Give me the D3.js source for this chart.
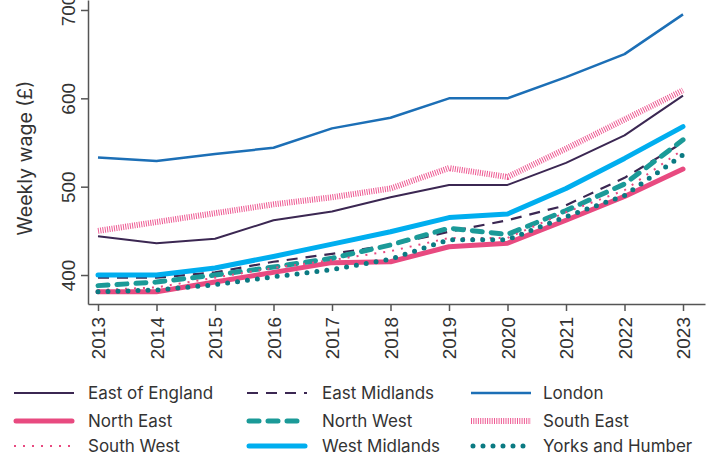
<!DOCTYPE html>
<html>
<head>
<meta charset="utf-8">
<script src="https://cdn.jsdelivr.net/npm/d3@7"></script>
<style>
  body { margin: 0; background: #fff; }
  svg { display: block; font-family: Inter, "Noto Sans", sans-serif; }
  .tick text { font-family: "Liberation Sans", Arial, sans-serif; }
</style>
</head>
<body>
<svg id="chart" width="710" height="455"></svg>
<script>
// years on the x axis
const years = [2013, 2014, 2015, 2016, 2017, 2018, 2019, 2020, 2021, 2022, 2023];
const yTicks = [400, 500, 600, 700];

// weekly wage per region (£)
const eastOfEngland = [444, 436, 441, 462, 472, 488, 502, 502, 527, 558, 603];
const eastMidlands  = [397, 397, 403, 415, 424, 434, 449, 462, 479, 510, 550];
const london        = [533, 529, 537, 544, 566, 578, 600, 600, 624, 650, 695];
const northEast     = [381, 381, 392, 403, 414, 415, 432, 436, 462, 489, 520];
const northWest     = [388, 392, 400, 409, 419, 434, 453, 446, 473, 503, 553];
const southEast     = [450, 460, 470, 480, 488, 498, 521, 511, 543, 576, 609];
const southWest     = [383, 386, 397, 408, 417, 427, 442, 442, 471, 496, 542];
const westMidlands  = [400, 400, 408, 421, 435, 449, 465, 469, 498, 532, 568];
const yorksHumber   = [381, 383, 389, 398, 406, 418, 440, 440, 466, 490, 536];

const series = [
  { name: "East of England", values: eastOfEngland, color: "#3b2752", width: 2, dash: null },
  { name: "East Midlands", values: eastMidlands, color: "#3b2752", width: 2.2, dash: "11,8" },
  { name: "London", values: london, color: "#1c6fb6", width: 2.5, dash: null },
  { name: "North East", values: northEast, color: "#e84a80", width: 5, dash: null, cap: "round" },
  { name: "North West", values: northWest, color: "#1b9a98", width: 5, dash: "10,9", cap: "round" },
  { name: "South East", values: southEast, color: "#ee5a93", width: 6, dash: "1,1.3" },
  { name: "South West", values: southWest, color: "#e84a80", width: 2, dash: "2,7" },
  { name: "West Midlands", values: westMidlands, color: "#00aeef", width: 5, dash: null, cap: "round" },
  { name: "Yorks and Humber", values: yorksHumber, color: "#0b7a82", width: 5, dash: "0,10", cap: "round" }
];

const svg = d3.select("#chart");

const x = d3.scaleLinear()
  .domain([2012.829, 2023.376])
  .range([88, 705]);

const y = d3.scaleLinear()
  .domain([367.2, 711.3])
  .range([304, 0]);

// axes
const xAxis = svg.append("g")
  .attr("transform", "translate(0,304)")
  .call(d3.axisBottom(x).tickValues(years).tickFormat(d3.format("d")).tickSize(7).tickSizeOuter(0));
xAxis.selectAll("text")
  .attr("transform", "rotate(-90)")
  .attr("text-anchor", "end")
  .attr("x", -13)
  .attr("y", 0)
  .attr("dy", "0.36em");

const yAxis = svg.append("g")
  .attr("transform", "translate(88,0)")
  .call(d3.axisLeft(y).tickValues(yTicks).tickSize(7).tickSizeOuter(0));
yAxis.selectAll("text")
  .attr("transform", "rotate(-90)")
  .attr("text-anchor", "middle")
  .attr("x", 0)
  .attr("y", -13)
  .attr("dy", 0);

svg.selectAll(".domain, .tick line").attr("stroke", "#555").attr("stroke-width", 1.5);
svg.selectAll(".tick text").attr("fill", "#333").style("font-size", "19px");

svg.append("text")
  .attr("transform", "translate(32,158) rotate(-90)")
  .attr("text-anchor", "middle")
  .attr("fill", "#333")
  .style("font-size", "19.5px")
  .text("Weekly wage (£)");

// lines
const line = d3.line()
  .x((d, i) => x(years[i]))
  .y(d => y(d));

svg.append("g")
  .selectAll("path")
  .data(series)
  .join("path")
  .attr("d", d => line(d.values))
  .attr("fill", "none")
  .attr("stroke", d => d.color)
  .attr("stroke-width", d => d.width)
  .attr("stroke-dasharray", d => d.dash)
  .attr("stroke-linecap", d => d.cap || "butt")
  .attr("stroke-linejoin", "round");

// legend, three columns
const colX = [14, 247, 471];
const rowY = [393, 421, 446];

const legend = svg.append("g")
  .selectAll("g")
  .data(series)
  .join("g")
  .attr("transform", (d, i) => `translate(${colX[i % 3]},${rowY[Math.floor(i / 3)]})`);

legend.append("line")
  .attr("x1", d => d.cap === "round" ? 2 : 0)
  .attr("x2", d => d.cap === "round" ? 58 : 60)
  .attr("stroke", d => d.color)
  .attr("stroke-width", d => d.width)
  .attr("stroke-dasharray", d => d.dash)
  .attr("stroke-linecap", d => d.cap || "butt");

legend.append("text")
  .attr("x", (d, i) => [74, 75, 72][i % 3])
  .attr("dy", "0.35em")
  .attr("fill", "#333")
  .style("font-size", "17px")
  .text(d => d.name);
</script>
</body>
</html>
